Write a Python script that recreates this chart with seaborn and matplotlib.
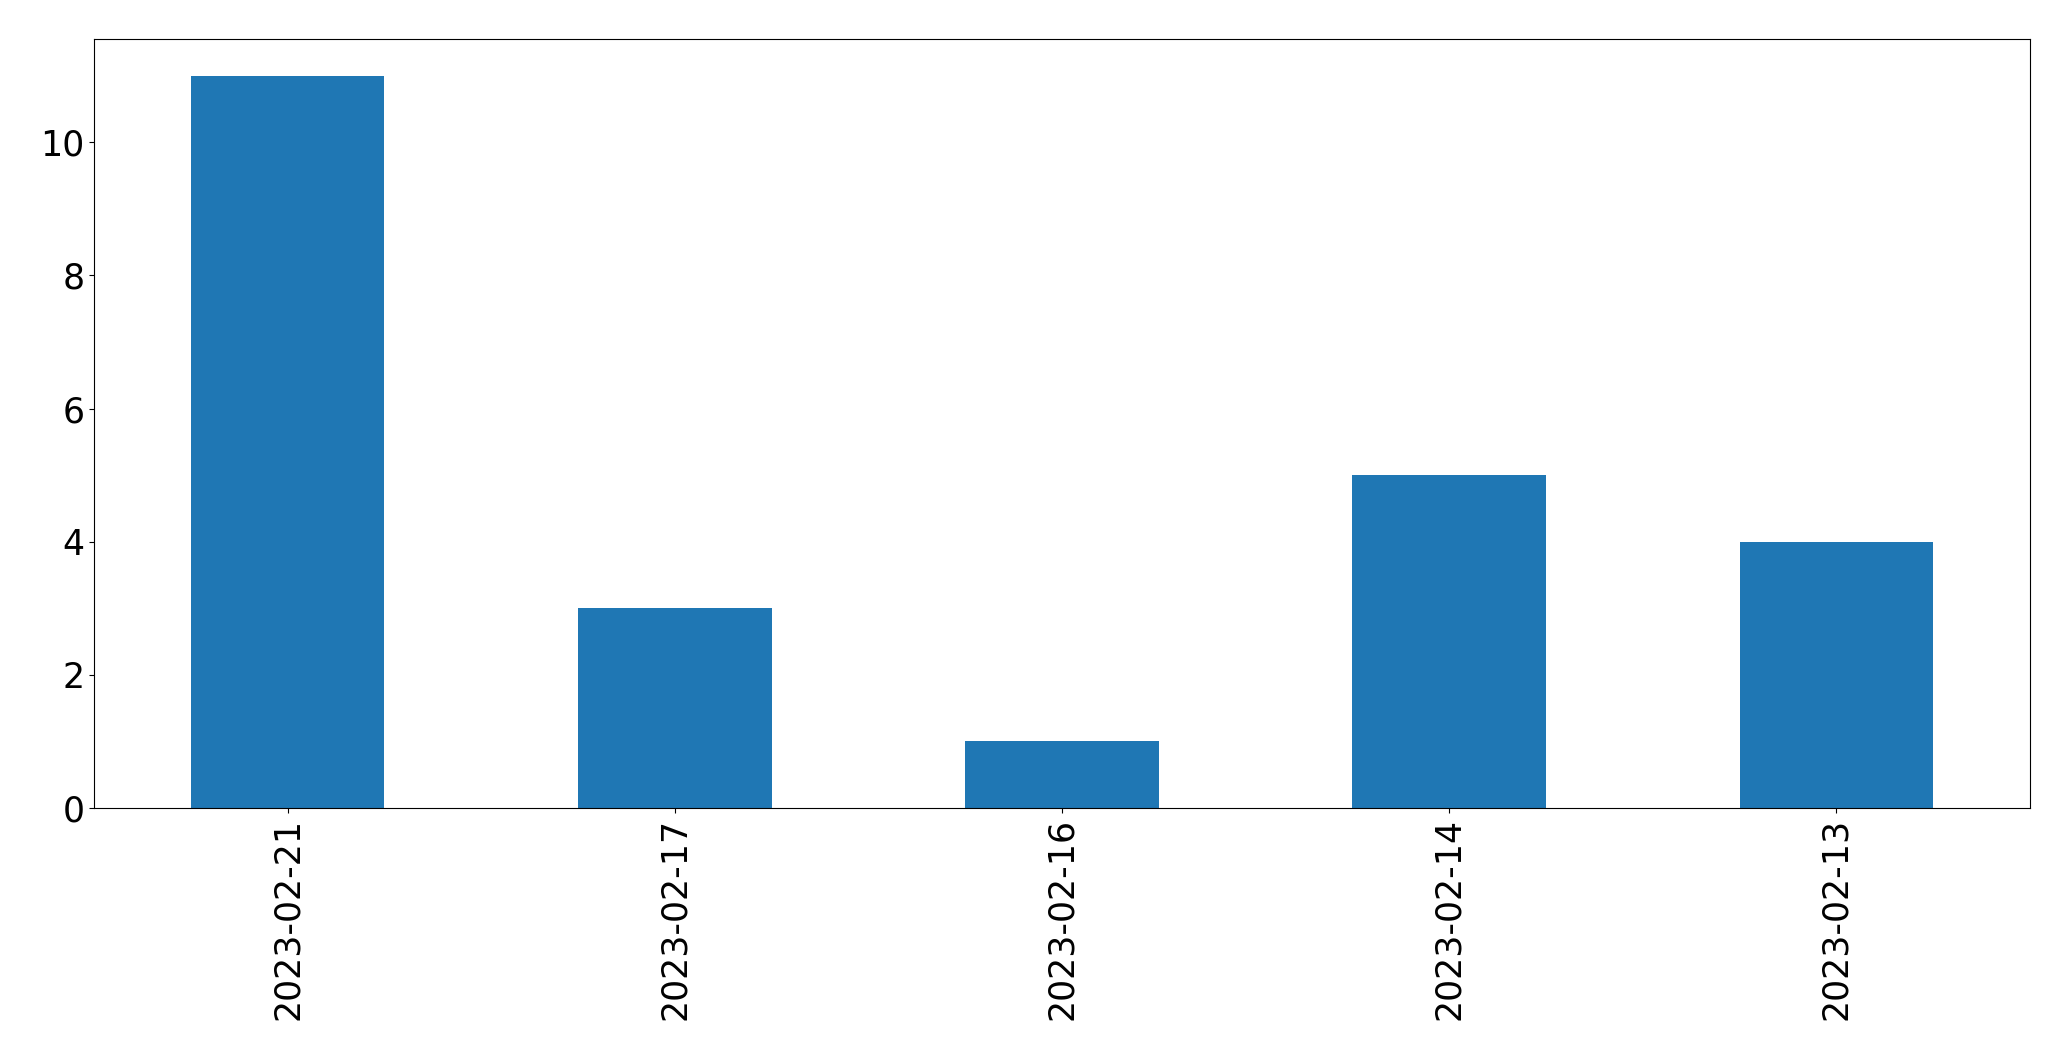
import matplotlib
matplotlib.use("Agg")
import matplotlib.pyplot as plt
import seaborn as sns
import pandas as pd

dates = ["2023-02-21", "2023-02-17", "2023-02-16", "2023-02-14", "2023-02-13"]
counts = [11, 3, 1, 5, 4]

df = pd.DataFrame({"date": dates, "count": counts})

fig = plt.figure(figsize=(20.71, 10.61), dpi=100)
ax = fig.add_axes([94/2071, 1 - 808/1061, (2030-94)/2071, (808-39)/1061])
sns.barplot(data=df, x="date", y="count", order=dates, color="#1f77b4",
            saturation=1, width=0.5, linewidth=0, ax=ax)
ax.set_xlim(-0.5, len(dates) - 0.5)
ax.set_ylim(0, max(counts) * 1.05)
ax.set_xlabel("")
ax.set_ylabel("")
ax.tick_params(axis="both", labelsize=25)
plt.setp(ax.get_xticklabels(), rotation=90)
fig.savefig("out.png", dpi=100)
